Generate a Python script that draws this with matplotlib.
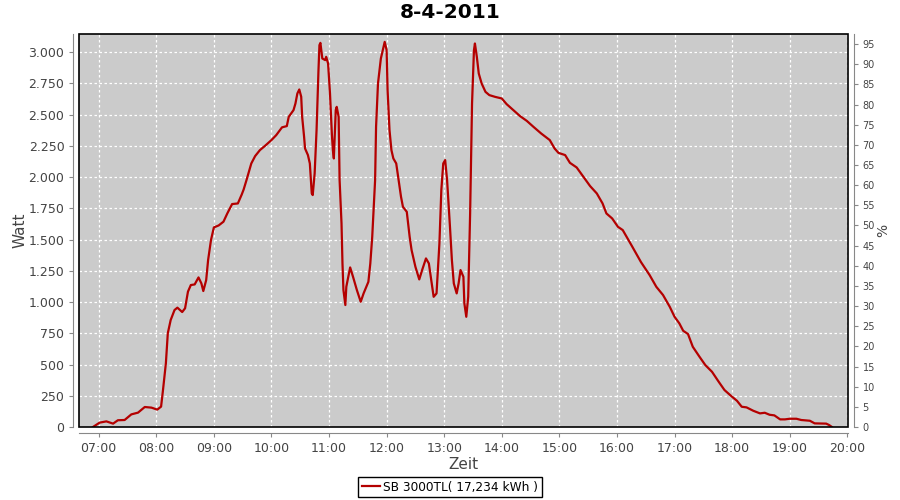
import matplotlib
matplotlib.use("Agg")
import matplotlib.pyplot as plt
from matplotlib.patches import Rectangle
from matplotlib.ticker import FuncFormatter, MultipleLocator

# data (time of day, power in W)
times = ["06:54", "07:01", "07:08", "07:15", "07:20", "07:27", "07:34", "07:41", "07:48", "07:55",
         "08:01", "08:05", "08:07", "08:10", "08:12", "08:15", "08:19", "08:22", "08:27", "08:30",
         "08:33", "08:36", "08:40", "08:44", "08:47", "08:49", "08:52", "08:54", "08:57", "09:00",
         "09:05", "09:10", "09:14", "09:19", "09:25", "09:29", "09:31", "09:34", "09:39", "09:43",
         "09:48", "09:53", "10:00", "10:05", "10:11", "10:16", "10:18", "10:23", "10:25", "10:27",
         "10:29", "10:31", "10:32", "10:34", "10:35", "10:38", "10:40", "10:42", "10:43", "10:45",
         "10:47", "10:49", "10:50", "10:51", "10:53", "10:56", "10:57", "10:59", "11:01", "11:03",
         "11:04", "11:05", "11:07", "11:08", "11:10", "11:11", "11:13", "11:14", "11:15", "11:17",
         "11:18", "11:22", "11:25", "11:29", "11:33", "11:36", "11:41", "11:43", "11:45", "11:48",
         "11:49", "11:51", "11:54", "11:58", "12:00", "12:01", "12:03", "12:05", "12:07", "12:10",
         "12:12", "12:15", "12:17", "12:21", "12:24", "12:26", "12:30", "12:34", "12:37", "12:41",
         "12:44", "12:47", "12:49", "12:52", "12:55", "12:57", "12:59", "13:01", "13:03", "13:06",
         "13:08", "13:10", "13:13", "13:15", "13:17", "13:20", "13:21", "13:23", "13:25", "13:27",
         "13:29", "13:31", "13:32", "13:34", "13:36", "13:39", "13:43", "13:47", "13:53", "14:00",
         "14:05", "14:12", "14:19", "14:26", "14:33", "14:41", "14:50", "14:55", "14:59", "15:06",
         "15:11", "15:18", "15:25", "15:32", "15:39", "15:45", "15:49", "15:55", "16:01", "16:06",
         "16:15", "16:25", "16:34", "16:41", "16:48", "16:55", "17:00", "17:05", "17:09", "17:14",
         "17:19", "17:26", "17:32", "17:39", "17:46", "17:52", "17:59", "18:05", "18:10", "18:15",
         "18:22", "18:29", "18:34", "18:39", "18:44", "18:50", "18:55", "19:00", "19:07", "19:12",
         "19:21", "19:26", "19:38", "19:41", "19:44"]
watt = [0, 35, 45, 27, 54, 56, 101, 115, 160, 155,
        139, 163, 296, 510, 750, 856, 936, 955, 920, 950,
        1083, 1136, 1141, 1197, 1149, 1088, 1176, 1336, 1496, 1597,
        1613, 1643, 1709, 1784, 1789, 1860, 1900, 1976, 2109, 2168,
        2216, 2248, 2296, 2336, 2398, 2408, 2482, 2536, 2589, 2669,
        2701, 2643, 2482, 2323, 2229, 2176, 2109, 1869, 1856, 2029,
        2376, 2856, 3056, 3074, 2949, 2936, 2962, 2909, 2669, 2336,
        2216, 2149, 2536, 2562, 2482, 1976, 1629, 1309, 1096, 976,
        1122, 1277, 1202, 1096, 1002, 1069, 1162, 1309, 1522, 1976,
        2402, 2749, 2949, 3082, 3016, 2696, 2376, 2216, 2149, 2109,
        2002, 1842, 1762, 1722, 1522, 1416, 1282, 1181, 1256, 1349,
        1309, 1149, 1042, 1069, 1469, 1896, 2109, 2136, 1976, 1602,
        1336, 1149, 1069, 1149, 1256, 1202, 989, 882, 1042, 1709,
        2589, 3016, 3069, 2962, 2829, 2749, 2682, 2656, 2642, 2629,
        2584, 2536, 2488, 2450, 2402, 2349, 2296, 2229, 2194, 2176,
        2114, 2077, 2002, 1928, 1869, 1789, 1709, 1669, 1602, 1576,
        1456, 1320, 1216, 1122, 1056, 962, 882, 829, 770, 744,
        642, 562, 496, 442, 362, 296, 248, 210, 162, 157,
        130, 109, 114, 98, 93, 61, 61, 66, 66, 56,
        50, 29, 27, 16, 0]

hour_ticks = list(range(7, 21))
title = "8-4-2011"
series_label = "SB 3000TL( 17,234 kWh )"

# convert "HH:MM" to decimal hours
hours = [int(t[:2]) + int(t[3:]) / 60 for t in times]

fig = plt.figure(figsize=(9, 5), dpi=100)
ax = fig.add_axes([79 / 900, 1 - 427 / 500, 769 / 900, 393 / 500])
ax.set_facecolor("#cbcbcb")

ax.plot(hours, watt, color="#b40000", lw=1.6, label=series_label, zorder=3)

# solid plot outline on top of the grid
ax.add_patch(Rectangle((0, 0), 1, 1, transform=ax.transAxes, fill=False,
                       edgecolor="black", lw=1.2, zorder=5, clip_on=False))

ax.set_xlim(6.658, 20.012)
ax.set_ylim(0, 3145)
ax.set_xticks(hour_ticks)
ax.set_xticklabels(["%02d:00" % h for h in hour_ticks])
ax.yaxis.set_major_locator(MultipleLocator(250))
ax.yaxis.set_major_formatter(FuncFormatter(lambda v, p: f"{int(v):,}".replace(",", ".")))
ax.grid(True, color="white", ls=(0, (2, 2)), lw=0.9)
ax.set_axisbelow(True)

for s in ["top", "right"]:
    ax.spines[s].set_visible(False)
for s in ["left", "bottom"]:
    ax.spines[s].set_position(("outward", 4))
    ax.spines[s].set_color("#888888")
ax.tick_params(colors="#888888", labelcolor="#444444", labelsize=9, length=3)

ax.set_xlabel("Zeit", fontsize=11, color="#444444", labelpad=2)
ax.set_ylabel("Watt", fontsize=11, color="#444444", labelpad=1)

# right axis in percent
ax2 = ax.twinx()
ax2.set_ylim(0, 97.5)
ax2.yaxis.set_major_locator(MultipleLocator(5))
for s in ["top", "left", "bottom"]:
    ax2.spines[s].set_visible(False)
ax2.spines["right"].set_position(("outward", 4))
ax2.spines["right"].set_color("#888888")
ax2.tick_params(colors="#888888", labelcolor="#444444", labelsize=7, length=3)
ax2.set_ylabel("%", fontsize=10, color="#444444", labelpad=1)

fig.suptitle(title, fontsize=14.5, fontweight="bold", y=0.995)

leg = fig.legend(loc="center", bbox_to_anchor=(0.5, 0.026), fancybox=False,
                 edgecolor="black", fontsize=8.7, handlelength=1.5, borderpad=0.3,
                 handletextpad=0.3, framealpha=1)
leg.get_frame().set_linewidth(1)

fig.savefig("out.png", dpi=100)
